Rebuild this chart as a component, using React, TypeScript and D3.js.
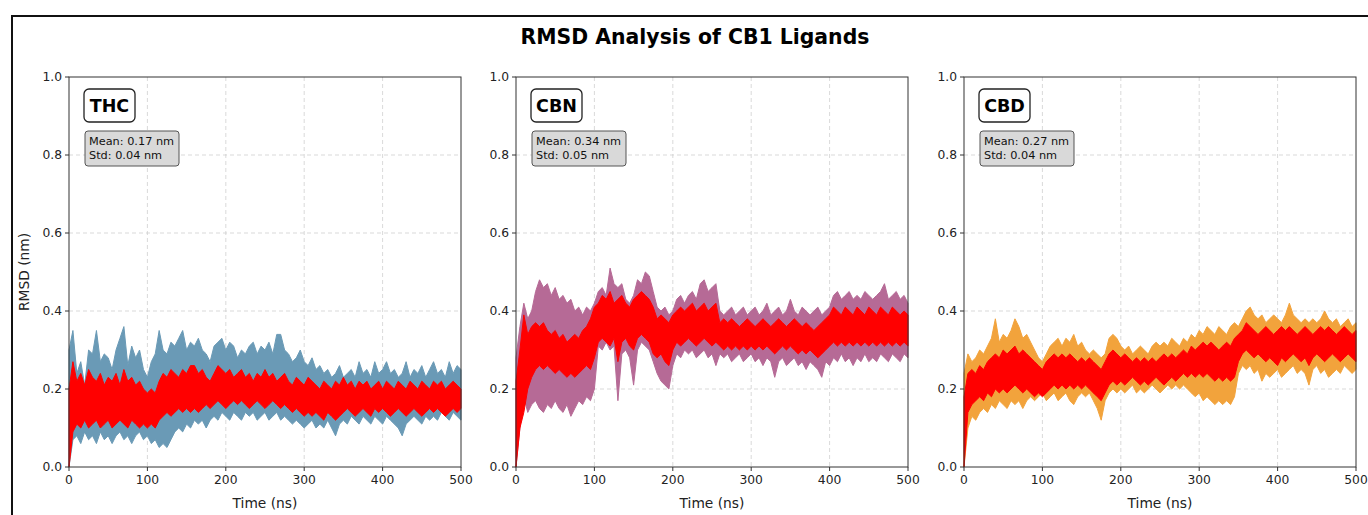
import React from 'react';
import * as d3 from 'd3';

// RMSD traces, sampled every 5 ns (0..500). Each trace is drawn as the band
// between its low and high envelope read off the original figure.
const TIME = d3.range(0, 501, 5);

const LIGANDS = ['THC', 'CBN', 'CBD'];
const MEANS = [0.17, 0.34, 0.27];
const STDS = [0.04, 0.05, 0.04];
const RAW_COLORS = ['#6a9ab6', '#b66a96', '#f2a33c'];
const X_TICKS = [0, 100, 200, 300, 400, 500];
const Y_TICKS = [0, 0.2, 0.4, 0.6, 0.8, 1.0];

const THC_RAW_HI = [
  0.30, 0.35, 0.24, 0.27, 0.21, 0.30, 0.29, 0.35, 0.27, 0.29,
  0.28, 0.25, 0.30, 0.33, 0.36, 0.26, 0.31, 0.28, 0.30, 0.25,
  0.23, 0.27, 0.29, 0.35, 0.30, 0.29, 0.32, 0.31, 0.33, 0.35,
  0.30, 0.32, 0.31, 0.33, 0.30, 0.29, 0.27, 0.31, 0.32, 0.33,
  0.30, 0.32, 0.31, 0.28, 0.30, 0.29, 0.31, 0.32, 0.29, 0.31,
  0.30, 0.32, 0.29, 0.34, 0.34, 0.30, 0.29, 0.27, 0.28, 0.30,
  0.27, 0.26, 0.28, 0.25, 0.26, 0.24, 0.25, 0.23, 0.24, 0.26,
  0.23, 0.24, 0.25, 0.23, 0.27, 0.24, 0.25, 0.23, 0.27, 0.24,
  0.25, 0.27, 0.24, 0.25, 0.23, 0.24, 0.27, 0.23, 0.25, 0.24,
  0.26, 0.23, 0.25, 0.27, 0.24, 0.25, 0.23, 0.27, 0.24, 0.26,
  0.25,
];
const THC_RAW_LO = [
  0.00, 0.07, 0.08, 0.06, 0.09, 0.07, 0.08, 0.06, 0.09, 0.07,
  0.08, 0.06, 0.08, 0.09, 0.07, 0.08, 0.06, 0.08, 0.09, 0.07,
  0.08, 0.06, 0.07, 0.05, 0.06, 0.05, 0.07, 0.09, 0.10, 0.09,
  0.11, 0.10, 0.12, 0.11, 0.12, 0.10, 0.12, 0.13, 0.12, 0.14,
  0.13, 0.12, 0.14, 0.13, 0.12, 0.14, 0.13, 0.14, 0.12, 0.13,
  0.14, 0.12, 0.13, 0.14, 0.12, 0.13, 0.12, 0.11, 0.12, 0.11,
  0.10, 0.11, 0.12, 0.10, 0.11, 0.10, 0.12, 0.10, 0.08, 0.11,
  0.12, 0.11, 0.13, 0.12, 0.11, 0.13, 0.12, 0.11, 0.13, 0.12,
  0.11, 0.13, 0.12, 0.11, 0.10, 0.08, 0.11, 0.12, 0.13, 0.12,
  0.11, 0.13, 0.12, 0.13, 0.12, 0.14, 0.13, 0.12, 0.14, 0.13,
  0.12,
];
const THC_FIT_HI = [
  0.20, 0.27, 0.22, 0.24, 0.21, 0.25, 0.23, 0.22, 0.24, 0.21,
  0.23, 0.22, 0.24, 0.21, 0.25, 0.22, 0.23, 0.21, 0.22, 0.20,
  0.19, 0.20, 0.19, 0.22, 0.24, 0.23, 0.25, 0.24, 0.23, 0.25,
  0.24, 0.26, 0.26, 0.24, 0.25, 0.23, 0.22, 0.24, 0.26, 0.25,
  0.24, 0.25, 0.23, 0.24, 0.25, 0.23, 0.24, 0.22, 0.24, 0.23,
  0.25, 0.23, 0.24, 0.22, 0.23, 0.24, 0.22, 0.21, 0.23, 0.22,
  0.21, 0.23, 0.22, 0.21, 0.20, 0.22, 0.21, 0.20, 0.22, 0.21,
  0.23, 0.21, 0.22, 0.20, 0.22, 0.21, 0.22, 0.20, 0.21, 0.22,
  0.20, 0.22, 0.21, 0.20, 0.22, 0.21, 0.20, 0.22, 0.21, 0.20,
  0.22, 0.21, 0.20, 0.22, 0.21, 0.22, 0.20, 0.21, 0.22, 0.21,
  0.20,
];
const THC_FIT_LO = [
  0.00, 0.09, 0.11, 0.10, 0.12, 0.10, 0.11, 0.12, 0.10, 0.11,
  0.12, 0.10, 0.11, 0.12, 0.11, 0.10, 0.12, 0.11, 0.10, 0.11,
  0.10, 0.11, 0.10, 0.12, 0.13, 0.14, 0.13, 0.14, 0.15, 0.14,
  0.15, 0.14, 0.15, 0.14, 0.15, 0.16, 0.15, 0.16, 0.17, 0.16,
  0.15, 0.16, 0.17, 0.16, 0.17, 0.16, 0.15, 0.16, 0.17, 0.16,
  0.15, 0.16, 0.17, 0.16, 0.15, 0.16, 0.15, 0.14, 0.15, 0.14,
  0.13, 0.14, 0.13, 0.14, 0.13, 0.12, 0.14, 0.13, 0.12, 0.13,
  0.14, 0.15, 0.14, 0.13, 0.14, 0.15, 0.14, 0.13, 0.15, 0.14,
  0.15, 0.14, 0.13, 0.14, 0.15, 0.14, 0.13, 0.14, 0.15, 0.14,
  0.13, 0.14, 0.15, 0.14, 0.15, 0.14, 0.13, 0.14, 0.15, 0.14,
  0.15,
];

const CBN_RAW_HI = [
  0.28, 0.36, 0.42, 0.38, 0.40, 0.45, 0.48, 0.46, 0.47, 0.44,
  0.46, 0.43, 0.44, 0.42, 0.43, 0.40, 0.41, 0.39, 0.41, 0.40,
  0.42, 0.45, 0.46, 0.44, 0.51, 0.47, 0.46, 0.47, 0.43, 0.42,
  0.44, 0.48, 0.47, 0.50, 0.49, 0.45, 0.41, 0.40, 0.41, 0.39,
  0.40, 0.43, 0.44, 0.42, 0.44, 0.45, 0.43, 0.47, 0.48, 0.45,
  0.46, 0.47, 0.40, 0.39, 0.40, 0.41, 0.39, 0.40, 0.41, 0.39,
  0.40, 0.41, 0.39, 0.40, 0.42, 0.39, 0.40, 0.41, 0.39, 0.40,
  0.43, 0.40, 0.39, 0.41, 0.40, 0.39, 0.40, 0.41, 0.39, 0.40,
  0.41, 0.44, 0.45, 0.43, 0.44, 0.45, 0.43, 0.44, 0.43, 0.45,
  0.44, 0.43, 0.44, 0.45, 0.47, 0.43, 0.44, 0.45, 0.43, 0.44,
  0.42,
];
const CBN_RAW_LO = [
  0.00, 0.10, 0.18, 0.14, 0.16, 0.17, 0.15, 0.14, 0.16, 0.15,
  0.17, 0.15, 0.14, 0.16, 0.13, 0.15, 0.17, 0.16, 0.18, 0.17,
  0.20, 0.31, 0.30, 0.32, 0.30, 0.31, 0.17, 0.29, 0.30, 0.28,
  0.21, 0.30, 0.32, 0.31, 0.30, 0.27, 0.24, 0.22, 0.21, 0.20,
  0.26, 0.29, 0.28, 0.30, 0.29, 0.30, 0.28, 0.29, 0.30, 0.28,
  0.29, 0.26, 0.29, 0.28, 0.29, 0.27, 0.28, 0.29, 0.27, 0.28,
  0.29, 0.27, 0.28, 0.26, 0.28, 0.27, 0.23, 0.27, 0.28, 0.26,
  0.27, 0.28, 0.26, 0.27, 0.25, 0.27, 0.26, 0.25, 0.23, 0.27,
  0.26, 0.28, 0.27, 0.29, 0.27, 0.28, 0.26, 0.28, 0.27, 0.29,
  0.27, 0.28, 0.27, 0.29, 0.28, 0.27, 0.29, 0.28, 0.27, 0.29,
  0.28,
];
const CBN_FIT_HI = [
  0.22, 0.30, 0.39, 0.34, 0.36, 0.37, 0.36, 0.37, 0.35, 0.34,
  0.35, 0.33, 0.34, 0.32, 0.33, 0.34, 0.33, 0.35, 0.36, 0.38,
  0.41, 0.42, 0.44, 0.43, 0.45, 0.42, 0.43, 0.44, 0.42, 0.41,
  0.43, 0.44, 0.45, 0.44, 0.43, 0.41, 0.38, 0.39, 0.38, 0.37,
  0.39, 0.40, 0.41, 0.40, 0.41, 0.42, 0.40, 0.41, 0.42, 0.40,
  0.41, 0.42, 0.37, 0.38, 0.37, 0.38, 0.37, 0.36, 0.37, 0.38,
  0.37, 0.36, 0.37, 0.38, 0.37, 0.36, 0.37, 0.38, 0.37, 0.36,
  0.37, 0.38, 0.37, 0.36, 0.37, 0.36, 0.35, 0.36, 0.37, 0.38,
  0.39, 0.41, 0.40, 0.39, 0.41, 0.40, 0.39, 0.41, 0.40, 0.39,
  0.41, 0.40, 0.39, 0.41, 0.40, 0.39, 0.41, 0.40, 0.39, 0.40,
  0.39,
];
const CBN_FIT_LO = [
  0.00, 0.10, 0.14, 0.20, 0.23, 0.25, 0.26, 0.25, 0.26, 0.25,
  0.24, 0.25, 0.24, 0.23, 0.24, 0.23, 0.24, 0.25, 0.26, 0.25,
  0.28, 0.32, 0.33, 0.32, 0.31, 0.33, 0.27, 0.32, 0.33, 0.31,
  0.30, 0.33, 0.34, 0.33, 0.32, 0.29, 0.28, 0.29, 0.27, 0.26,
  0.30, 0.32, 0.31, 0.32, 0.33, 0.32, 0.31, 0.32, 0.33, 0.32,
  0.31, 0.32, 0.31, 0.30, 0.31, 0.30, 0.31, 0.30, 0.31, 0.30,
  0.31, 0.30, 0.31, 0.30, 0.31, 0.30, 0.29, 0.30, 0.31, 0.30,
  0.31, 0.30, 0.29, 0.30, 0.29, 0.30, 0.29, 0.28, 0.29, 0.30,
  0.31, 0.32, 0.31, 0.32, 0.31, 0.32, 0.31, 0.32, 0.31, 0.32,
  0.31, 0.32, 0.31, 0.32, 0.31, 0.32, 0.31, 0.32, 0.31, 0.32,
  0.31,
];

const CBD_RAW_HI = [
  0.24, 0.29, 0.27, 0.28, 0.30, 0.29, 0.31, 0.33, 0.38, 0.32,
  0.34, 0.33, 0.35, 0.38, 0.36, 0.33, 0.34, 0.32, 0.30, 0.28,
  0.27, 0.29, 0.31, 0.32, 0.33, 0.31, 0.33, 0.32, 0.34, 0.31,
  0.32, 0.30, 0.29, 0.30, 0.29, 0.28, 0.29, 0.33, 0.34, 0.33,
  0.31, 0.30, 0.31, 0.29, 0.30, 0.31, 0.30, 0.29, 0.31, 0.32,
  0.31, 0.32, 0.31, 0.33, 0.32, 0.31, 0.33, 0.32, 0.34, 0.33,
  0.35, 0.34, 0.36, 0.35, 0.34, 0.36, 0.35, 0.34, 0.36, 0.37,
  0.36, 0.38, 0.40, 0.41, 0.39, 0.38, 0.39, 0.37, 0.38, 0.39,
  0.38, 0.37, 0.39, 0.42, 0.39, 0.38, 0.37, 0.38, 0.37, 0.38,
  0.37, 0.38, 0.40, 0.38, 0.37, 0.38, 0.36, 0.37, 0.38, 0.36,
  0.37,
];
const CBD_RAW_LO = [
  0.00, 0.10, 0.13, 0.12, 0.14, 0.15, 0.14, 0.16, 0.15, 0.17,
  0.16, 0.15, 0.17, 0.16, 0.17, 0.15, 0.17, 0.18, 0.17, 0.18,
  0.19, 0.17, 0.18, 0.19, 0.17, 0.18, 0.19, 0.17, 0.16, 0.18,
  0.19, 0.18, 0.19, 0.17, 0.15, 0.12, 0.17, 0.19, 0.20, 0.19,
  0.20, 0.19, 0.20, 0.21, 0.19, 0.20, 0.19, 0.20, 0.21, 0.20,
  0.19, 0.20, 0.21, 0.20, 0.21, 0.20, 0.21, 0.20, 0.19, 0.18,
  0.19, 0.17, 0.18, 0.17, 0.16, 0.17, 0.16, 0.17, 0.16, 0.18,
  0.24, 0.26, 0.25, 0.26, 0.24, 0.25, 0.22, 0.24, 0.23, 0.24,
  0.25, 0.23, 0.24, 0.25, 0.26, 0.24, 0.25, 0.24, 0.21, 0.25,
  0.26, 0.24, 0.25, 0.23, 0.24, 0.25, 0.24, 0.26, 0.25, 0.24,
  0.25,
];
const CBD_FIT_HI = [
  0.18, 0.24, 0.25, 0.24, 0.26, 0.25, 0.27, 0.28, 0.29, 0.28,
  0.30, 0.29, 0.30, 0.31, 0.29, 0.30, 0.29, 0.28, 0.27, 0.26,
  0.25, 0.27, 0.28, 0.29, 0.28, 0.29, 0.28, 0.29, 0.28, 0.27,
  0.28, 0.27, 0.28, 0.27, 0.26, 0.25, 0.27, 0.29, 0.30, 0.29,
  0.28, 0.29, 0.28, 0.27, 0.28, 0.27, 0.28, 0.27, 0.28, 0.27,
  0.28, 0.29, 0.28, 0.29, 0.28, 0.29, 0.30, 0.29, 0.31, 0.30,
  0.31, 0.32, 0.31, 0.32, 0.31, 0.30, 0.31, 0.32, 0.31, 0.33,
  0.34, 0.35, 0.37, 0.36, 0.35, 0.34, 0.35, 0.36, 0.35, 0.34,
  0.35, 0.36, 0.35, 0.36, 0.35, 0.34, 0.35, 0.36, 0.35, 0.34,
  0.35, 0.36, 0.35, 0.36, 0.35, 0.34, 0.35, 0.36, 0.35, 0.34,
  0.35,
];
const CBD_FIT_LO = [
  0.00, 0.14, 0.16, 0.17, 0.18, 0.17, 0.19, 0.18, 0.20, 0.19,
  0.20, 0.19, 0.20, 0.21, 0.20, 0.19, 0.20, 0.19, 0.18, 0.19,
  0.18, 0.19, 0.20, 0.21, 0.20, 0.21, 0.20, 0.21, 0.20, 0.21,
  0.20, 0.21, 0.20, 0.19, 0.18, 0.17, 0.19, 0.21, 0.22, 0.21,
  0.22, 0.21, 0.22, 0.23, 0.22, 0.21, 0.22, 0.21, 0.22, 0.23,
  0.22, 0.21, 0.22, 0.23, 0.22, 0.23, 0.24, 0.23, 0.24, 0.23,
  0.24, 0.23, 0.24, 0.23, 0.22, 0.23, 0.22, 0.23, 0.22, 0.23,
  0.27, 0.29, 0.30, 0.29, 0.28, 0.29, 0.28, 0.27, 0.28, 0.27,
  0.26, 0.28, 0.27, 0.28, 0.29, 0.28, 0.27, 0.28, 0.26, 0.28,
  0.29, 0.28, 0.27, 0.28, 0.29, 0.28, 0.27, 0.28, 0.29, 0.28,
  0.27,
];

const RAW_HI = [THC_RAW_HI, CBN_RAW_HI, CBD_RAW_HI];
const RAW_LO = [THC_RAW_LO, CBN_RAW_LO, CBD_RAW_LO];
const FIT_HI = [THC_FIT_HI, CBN_FIT_HI, CBD_FIT_HI];
const FIT_LO = [THC_FIT_LO, CBN_FIT_LO, CBD_FIT_LO];

const W = 1368;
const H = 515;
const PANEL_LEFT = [69, 516, 964];
const PANEL_W = 392;
const PANEL_TOP = 77;
const PANEL_H = 390;
const FONT = "'DejaVu Sans', sans-serif";

function Panel({ idx }: { idx: number }) {
  const left = PANEL_LEFT[idx];
  const x = d3.scaleLinear().domain([0, 500]).range([left, left + PANEL_W]);
  const y = d3.scaleLinear().domain([0, 1]).range([PANEL_TOP + PANEL_H, PANEL_TOP]);

  const band = (lo: number[], hi: number[]) =>
    d3.area<number>()
      .x((t) => x(t))
      .y0((_, i) => y(lo[i]))
      .y1((_, i) => y(hi[i]))(TIME) || '';

  const bottom = PANEL_TOP + PANEL_H;
  const color = RAW_COLORS[idx];

  return (
    <g>
      {/* grid */}
      {X_TICKS.slice(1, -1).map((t) => (
        <line key={'gx' + t} x1={x(t)} x2={x(t)} y1={PANEL_TOP} y2={bottom}
          stroke="#cfcfcf" strokeWidth={0.8} strokeDasharray="4,3" />
      ))}
      {Y_TICKS.slice(1, -1).map((v) => (
        <line key={'gy' + v} x1={left} x2={left + PANEL_W} y1={y(v)} y2={y(v)}
          stroke="#cfcfcf" strokeWidth={0.8} strokeDasharray="4,3" />
      ))}

      {/* raw trace band */}
      <path d={band(RAW_LO[idx], RAW_HI[idx])} fill={color} stroke={color} strokeWidth={1} strokeLinejoin="round" />
      {/* red running trace band */}
      <path d={band(FIT_LO[idx], FIT_HI[idx])} fill="#ff0000" stroke="#ff0000" strokeWidth={1} strokeLinejoin="round" />

      {/* frame */}
      <rect x={left} y={PANEL_TOP} width={PANEL_W} height={PANEL_H} fill="none" stroke="#333" strokeWidth={1} />

      {/* x axis */}
      {X_TICKS.map((t) => (
        <g key={'xt' + t}>
          <line x1={x(t)} x2={x(t)} y1={bottom} y2={bottom + 4} stroke="#333" />
          <text x={x(t)} y={bottom + 17} textAnchor="middle" fontSize={12.3} fill="#222" fontFamily={FONT}>{t}</text>
        </g>
      ))}
      <text x={left + PANEL_W / 2} y={bottom + 41} textAnchor="middle" fontSize={13.8} fill="#222" fontFamily={FONT}>Time (ns)</text>

      {/* y axis */}
      {Y_TICKS.map((v) => (
        <g key={'yt' + v}>
          <line x1={left - 4} x2={left} y1={y(v)} y2={y(v)} stroke="#333" />
          <text x={left - 7} y={y(v) + 4} textAnchor="end" fontSize={12.3} fill="#222" fontFamily={FONT}>{v.toFixed(1)}</text>
        </g>
      ))}
      {idx === 0 && (
        <text transform={`translate(${left - 40},${PANEL_TOP + PANEL_H / 2}) rotate(-90)`}
          textAnchor="middle" fontSize={13.8} fill="#222" fontFamily={FONT}>RMSD (nm)</text>
      )}

      {/* ligand label */}
      <rect x={left + 15} y={PANEL_TOP + 12} width={51} height={33} rx={5} fill="#fff" stroke="#222" strokeWidth={1.3} />
      <text x={left + 40.5} y={PANEL_TOP + 35} textAnchor="middle" fontSize={17.5} fontWeight="bold" fill="#000" fontFamily={FONT}>
        {LIGANDS[idx]}
      </text>

      {/* stats box */}
      <rect x={left + 16} y={PANEL_TOP + 54} width={94} height={35} rx={3} fill="#d9d9d9" stroke="#555" strokeWidth={1} />
      <text x={left + 20} y={PANEL_TOP + 68} fontSize={11.3} fill="#111" fontFamily={FONT}>{`Mean: ${MEANS[idx].toFixed(2)} nm`}</text>
      <text x={left + 20} y={PANEL_TOP + 82} fontSize={11.3} fill="#111" fontFamily={FONT}>{`Std: ${STDS[idx].toFixed(2)} nm`}</text>
    </g>
  );
}

export default function App() {
  return (
    <svg width={W} height={H} style={{ position: 'absolute', left: 0, top: 0, background: '#fff' }}>
      <rect x={0} y={0} width={W} height={H} fill="#fff" />
      <rect x={12} y={16} width={W + 20} height={H + 20} fill="none" stroke="#111" strokeWidth={2} />
      <text x={695} y={44} textAnchor="middle" fontSize={20.4} fontWeight="bold" fill="#000" fontFamily={FONT}>
        RMSD Analysis of CB1 Ligands
      </text>
      {LIGANDS.map((_, i) => <Panel key={i} idx={i} />)}
    </svg>
  );
}
